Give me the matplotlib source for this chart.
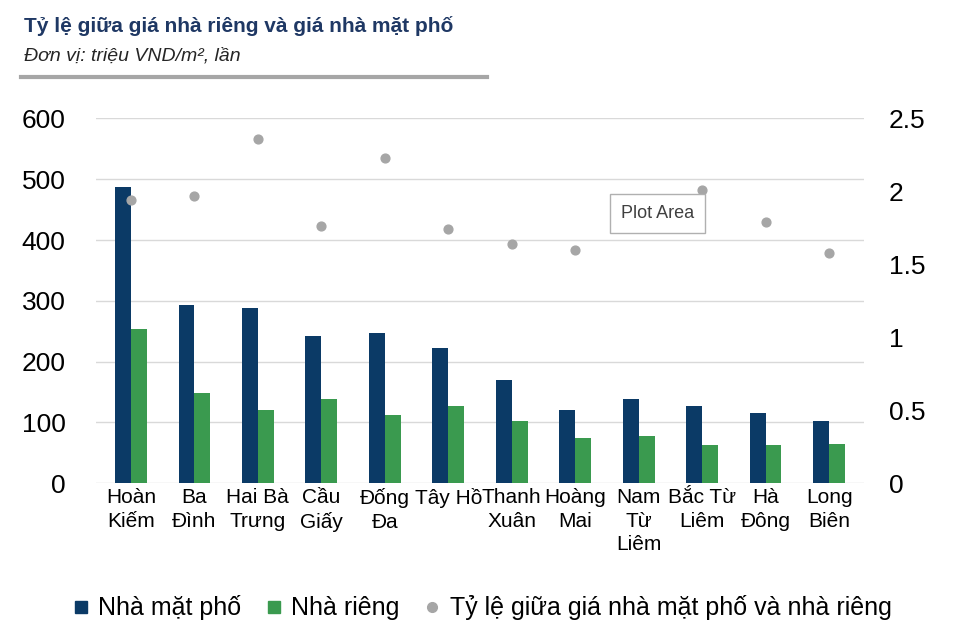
import matplotlib
matplotlib.use("Agg")
import matplotlib.pyplot as plt
import numpy as np
from matplotlib.lines import Line2D

plt.rcParams["font.family"] = "Liberation Sans"

categories = ["Hoàn\nKiếm", "Ba\nĐình", "Hai Bà\nTrưng", "Cầu\nGiấy", "Đống\nĐa", "Tây Hồ",
              "Thanh\nXuân", "Hoàng\nMai", "Nam\nTừ\nLiêm", "Bắc Từ\nLiêm", "Hà\nĐông", "Long\nBiên"]
mat_pho = [487, 293, 288, 242, 247, 222, 170, 121, 139, 127, 115, 103]
nha_rieng = [253, 148, 121, 139, 112, 127, 103, 75, 78, 63, 63, 65]
ty_le = [1.94, 1.97, 2.36, 1.76, 2.23, 1.74, 1.64, 1.60, 1.78, 2.01, 1.79, 1.58]

navy = "#0b3a66"
green = "#3a9a4f"
grey = "#a6a6a6"

fig = plt.figure(figsize=(9.6, 6.4), dpi=100)
ax = fig.add_axes([0.10, 0.245, 0.80, 0.57])
x = np.arange(len(categories))
w = 0.25
ax.bar(x - w / 2, mat_pho, w, color=navy, zorder=2)
ax.bar(x + w / 2, nha_rieng, w, color=green, zorder=2)
ax.set_ylim(0, 600)
ax.set_yticks(range(0, 601, 100))
ax.set_xlim(-0.55, len(categories) - 0.45)
ax.grid(axis="y", color="#d9d9d9", lw=1, zorder=0)
for s in ax.spines.values():
    s.set_visible(False)
ax.tick_params(length=0, labelsize=19)
ax.tick_params(axis="y", pad=22)
ax.set_xticks(x)
ax.set_xticklabels(categories, fontsize=15, va="top", linespacing=1.3)

ax2 = ax.twinx()
ax2.scatter(x, ty_le, color=grey, s=40, zorder=3)
ax2.set_ylim(0, 2.5)
ax2.set_yticks([0, 0.5, 1, 1.5, 2, 2.5])
ax2.set_yticklabels(["0", "0.5", "1", "1.5", "2", "2.5"])
for s in ax2.spines.values():
    s.set_visible(False)
ax2.tick_params(length=0, labelsize=19, pad=18)

ax2.text(8.3, 1.85, "Plot Area", fontsize=13, color="#404040", ha="center", va="center", zorder=5,
         bbox=dict(boxstyle="square,pad=0.6", fc="white", ec="#b0b0b0"))

fig.text(0.025, 0.96, "Tỷ lệ giữa giá nhà riêng và giá nhà mặt phố", fontsize=15,
         fontweight="bold", color="#1f3864", va="center")
fig.text(0.025, 0.912, "Đơn vị: triệu VND/m², lần", fontsize=14, style="italic",
         color="#262626", va="center")
fig.add_artist(Line2D([0.022, 0.507], [0.88, 0.88], color="#a6a6a6", lw=3))

handles = [Line2D([], [], marker="s", ls="", color=navy, ms=9),
           Line2D([], [], marker="s", ls="", color=green, ms=9),
           Line2D([], [], marker="o", ls="", color=grey, ms=7)]
fig.legend(handles, ["Nhà mặt phố", "Nhà riêng", "Tỷ lệ giữa giá nhà mặt phố và nhà riêng"],
           loc="center", bbox_to_anchor=(0.5, 0.05), ncol=3, frameon=False, fontsize=18,
           handletextpad=0.2, columnspacing=0.8, handlelength=1.0)
fig.savefig("out.png")
